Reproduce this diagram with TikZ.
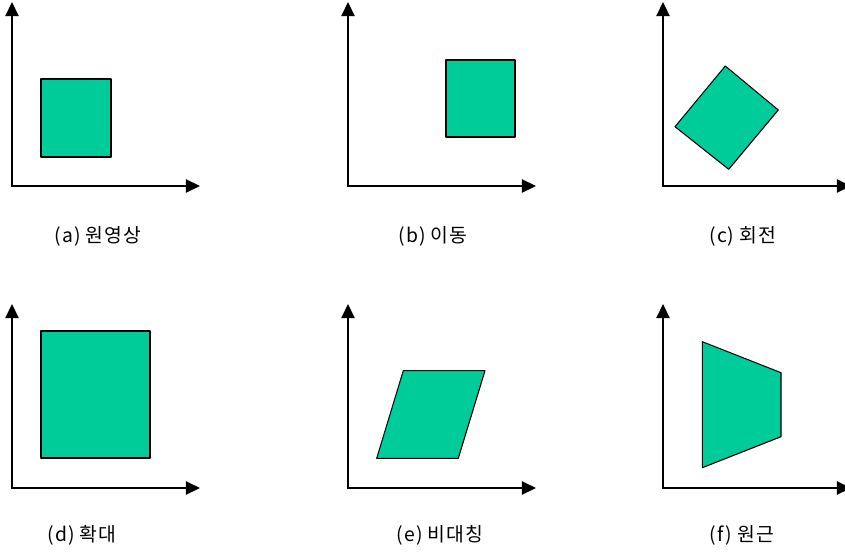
\documentclass[tikz,border=0pt]{standalone}
\usepackage{fontspec}
\setmainfont{Noto Sans CJK KR}[LetterSpace=5]
\usetikzlibrary{arrows.meta}
\definecolor{imggreen}{RGB}{0,204,153}
\begin{document}
\begin{tikzpicture}[x=0.02cm,y=-0.02cm,
      axis/.style={line width=0.9pt,{Triangle[length=8pt,width=7.5pt]}-{Triangle[length=8pt,width=7.5pt]}},
      img/.style={draw,fill=imggreen,line width=0.6pt,line join=round},
      caption/.style={font=\fontsize{11pt}{13pt}\selectfont,inner sep=0pt}]
      \useasboundingbox (0,0) rectangle (845,551);
      % axes
      \foreach \ox/\oy in {12/186,348/186,663/186,12/488,348/488,663/488} {
        \draw[axis] (\ox,\oy-184) -- (\ox,\oy) -- (\ox+188,\oy);
      }
      % (a) original
      \draw[img] (41,79) rectangle (111,157);
      % (b) translation
      \draw[img] (446,60) rectangle (515,137);
      % (c) rotation
      \draw[img] (725.3,66) -- (778.3,110) -- (728.7,169.3) -- (675,126.7) -- cycle;
      % (d) scaling
      \draw[img] (41,331) rectangle (150,458);
      % (e) shear
      \draw[img] (403.3,370.7) -- (485,370.7) -- (458.3,458.3) -- (376.7,458.3) -- cycle;
      % (f) perspective
      \draw[img] (702.3,341.7) -- (781,372.7) -- (781,436.7) -- (702.3,467.7) -- cycle;
      % captions
      \foreach \x/\y/\name/\txt in {98/236/capa/(a) 원영상,433/236/capb/(b) 이동,743/236/capc/(c) 회전,
                                   82/535/capd/(d) 확대,440/535/cape/(e) 비대칭,742/535/capf/(f) 원근} {
        \node[caption] (\name) at (\x,\y) {\txt};
      }
    \end{tikzpicture}
\end{document}
